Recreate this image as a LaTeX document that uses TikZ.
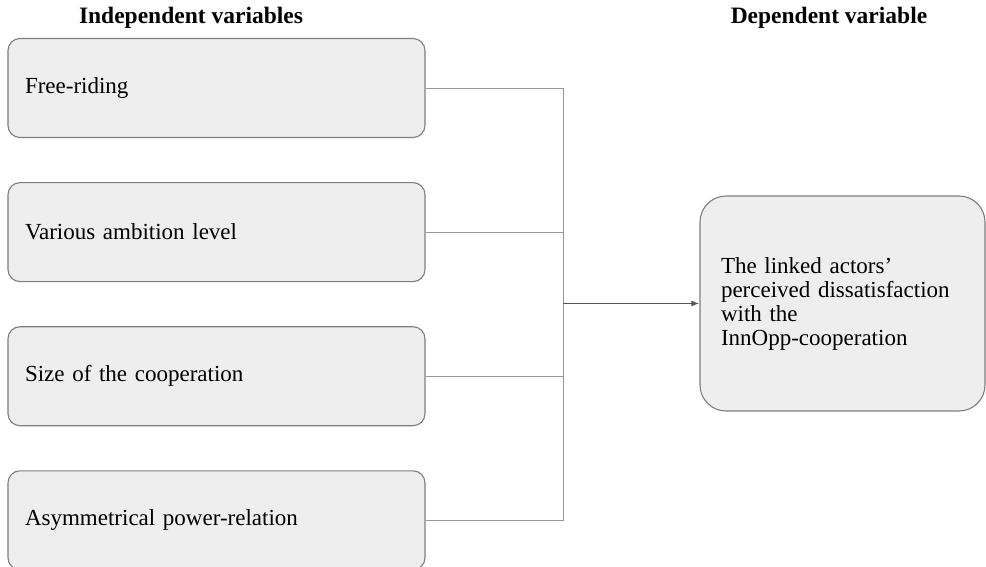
\documentclass[tikz,border=0pt]{standalone}
\usepackage{fontspec}
\setmainfont{Liberation Serif}
\usepackage{xcolor}
\usepackage{tikz}
\usetikzlibrary{positioning,arrows.meta}
\definecolor{boxfill}{RGB}{238,238,238}
\definecolor{boxline}{RGB}{125,125,125}
\definecolor{linkgray}{RGB}{150,150,150}
\definecolor{arrowgray}{RGB}{85,85,85}

\begin{document}
\begin{tikzpicture}[
    x=1pt, y=1pt,
    node distance=44pt,
    varbox/.style={draw=boxline, line width=1.1pt, rounded corners=12pt, fill=boxfill, minimum height=99pt, minimum width=417pt, text width=383pt, inner xsep=17pt, align=left, font=\fontsize{23}{24}\selectfont},
    depbox/.style={draw=boxline, line width=1.1pt, rounded corners=26pt, fill=boxfill, minimum height=215pt, minimum width=285pt, text width=243pt, inner xsep=21pt, align=left, font=\fontsize{23}{24}\selectfont},
    heading/.style={font=\fontsize{23.5}{24}\selectfont\bfseries},
    link/.style={draw=linkgray, line width=1pt},
    arrow/.style={-{Latex[length=8pt,width=6pt]}, draw=arrowgray, line width=1.6pt}
]
    \useasboundingbox (0,0) rectangle (986,-566);

    \node[heading] (indep) at (191,-18) {Independent variables};
    \node[heading] (depend) at (829,-18) {Dependent variable};

    \node[varbox] (free) at (216.5,-88) {Free-riding};
    \node[varbox, below=of free] (ambition) {Various ambition level};
    \node[varbox, below=of ambition] (size) {Size of the cooperation};
    \node[varbox, below=of size] (power) {Asymmetrical power-relation};

    \node[depbox] (dissat) at (842.5,-303.5) {The linked actors'\\perceived dissatisfaction\\with the\\InnOpp-cooperation};

    \coordinate (join) at (563,-303.5);

    \draw[link] (free.east) -| (join);
    \draw[link] (ambition.east) -| (join);
    \draw[link] (size.east) -| (join);
    \draw[link] (power.east) -| (join);
    \draw[arrow] (join) -- (dissat.west);
\end{tikzpicture}
\end{document}
